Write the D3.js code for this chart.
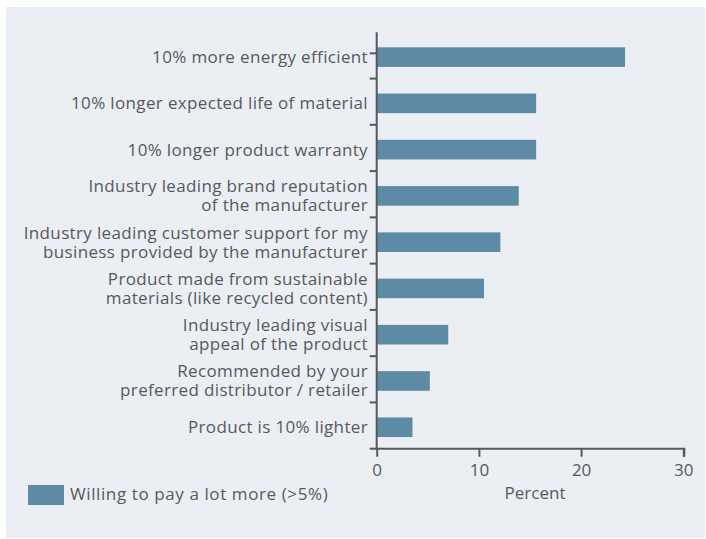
<!DOCTYPE html>
<html>
<head>
<meta charset="utf-8">
<script src="https://cdn.jsdelivr.net/npm/d3@7"></script>
<style>
  html, body { margin: 0; padding: 0; background: #ffffff; }
  svg { display: block; }
  text { font-family: "Open Sans", "Noto Sans", sans-serif; fill: #555a5f; }
</style>
</head>
<body>
<svg id="chart" width="706" height="539"></svg>
<script>
// Survey items, top to bottom; each entry lists the label's lines
const categories = [
  ["10% more energy efficient"],
  ["10% longer expected life of material"],
  ["10% longer product warranty"],
  ["Industry leading brand reputation", "of the manufacturer"],
  ["Industry leading customer support for my", "business provided by the manufacturer"],
  ["Product made from sustainable", "materials (like recycled content)"],
  ["Industry leading visual", "appeal of the product"],
  ["Recommended by your", "preferred distributor / retailer"],
  ["Product is 10% lighter"]
];
// Share of respondents willing to pay a lot more (>5%), percent
const values = [24.3, 15.6, 15.6, 13.9, 12.1, 10.5, 7.0, 5.2, 3.5];
const xTicks = [0, 10, 20, 30];
const seriesName = "Willing to pay a lot more (>5%)";
const axisTitle = "Percent";

const svg = d3.select("#chart");
const barColor = "#5d8ba5";
const axisColor = "#55595d";

// panel background
svg.append("rect")
  .attr("x", 6).attr("y", 7)
  .attr("width", 699).attr("height", 531)
  .attr("fill", "#ebeef3");

const ids = categories.map((d, i) => i);

const x = d3.scaleLinear().domain([0, 30]).range([376.7, 683.3]);
const y = d3.scaleBand().domain(ids).range([32.3, 448.7]).paddingInner(0).paddingOuter(0);

const barH = 19.6;
const barOffset = 15; // bars sit slightly below the band centre

// bars
svg.append("g").selectAll("rect")
  .data(values)
  .join("rect")
  .attr("x", x(0))
  .attr("y", (d, i) => y(i) + barOffset)
  .attr("width", d => x(d) - x(0))
  .attr("height", barH)
  .attr("fill", barColor);

// category axis: line plus ticks at band boundaries
const gy = svg.append("g");
gy.append("line")
  .attr("x1", x(0)).attr("x2", x(0))
  .attr("y1", y.range()[0]).attr("y2", y.range()[1] + 1)
  .attr("stroke", axisColor).attr("stroke-width", 2);

const boundaries = ids.slice(1).map(i => y(i)).concat([y.range()[1]]);
boundaries.unshift(y(0) + 21);
gy.selectAll("line.tick")
  .data(boundaries)
  .join("line")
  .attr("class", "tick")
  .attr("x1", x(0) - 7).attr("x2", x(0))
  .attr("y1", d => d).attr("y2", d => d)
  .attr("stroke", axisColor).attr("stroke-width", 2);

// category labels, right aligned
const lineH = 19;
const labels = svg.append("g")
  .attr("text-anchor", "end")
  .attr("font-size", 17)
  .attr("letter-spacing", "0.35px");
categories.forEach((lines, i) => {
  const cy = y(i) + barOffset + barH / 2;
  const t = labels.append("text")
    .attr("x", 368)
    .attr("y", cy - (lines.length - 1) * lineH / 2);
  lines.forEach((ln, j) => {
    t.append("tspan")
      .attr("x", 368)
      .attr("dy", j === 0 ? "0.35em" : lineH)
      .text(ln);
  });
});

// value axis
const gx = svg.append("g").attr("transform", `translate(0,${y.range()[1]})`);
gx.call(d3.axisBottom(x).tickValues(xTicks).tickSize(8).tickPadding(7).tickFormat(d3.format("d")));
gx.select(".domain").attr("stroke", axisColor).attr("stroke-width", 2)
  .attr("d", `M${x(0)},0H${x(30) + 1}V8`);
gx.selectAll(".tick line").attr("stroke", axisColor).attr("stroke-width", 2);
gx.selectAll(".tick text")
  .attr("font-size", 17)
  .attr("font-family", '"Open Sans", "Noto Sans", sans-serif')
  .attr("fill", "#555a5f");

svg.append("text")
  .attr("x", 535).attr("y", 493)
  .attr("dy", "0.35em")
  .attr("text-anchor", "middle")
  .attr("font-size", 17)
  .text(axisTitle);

// legend
const lg = svg.append("g");
lg.append("rect")
  .attr("x", 28).attr("y", 485)
  .attr("width", 36).attr("height", 20)
  .attr("fill", barColor);
lg.append("text")
  .attr("x", 70).attr("y", 494)
  .attr("dy", "0.35em")
  .attr("font-size", 17)
  .attr("letter-spacing", "0.6px")
  .text(seriesName);
</script>
</body>
</html>
